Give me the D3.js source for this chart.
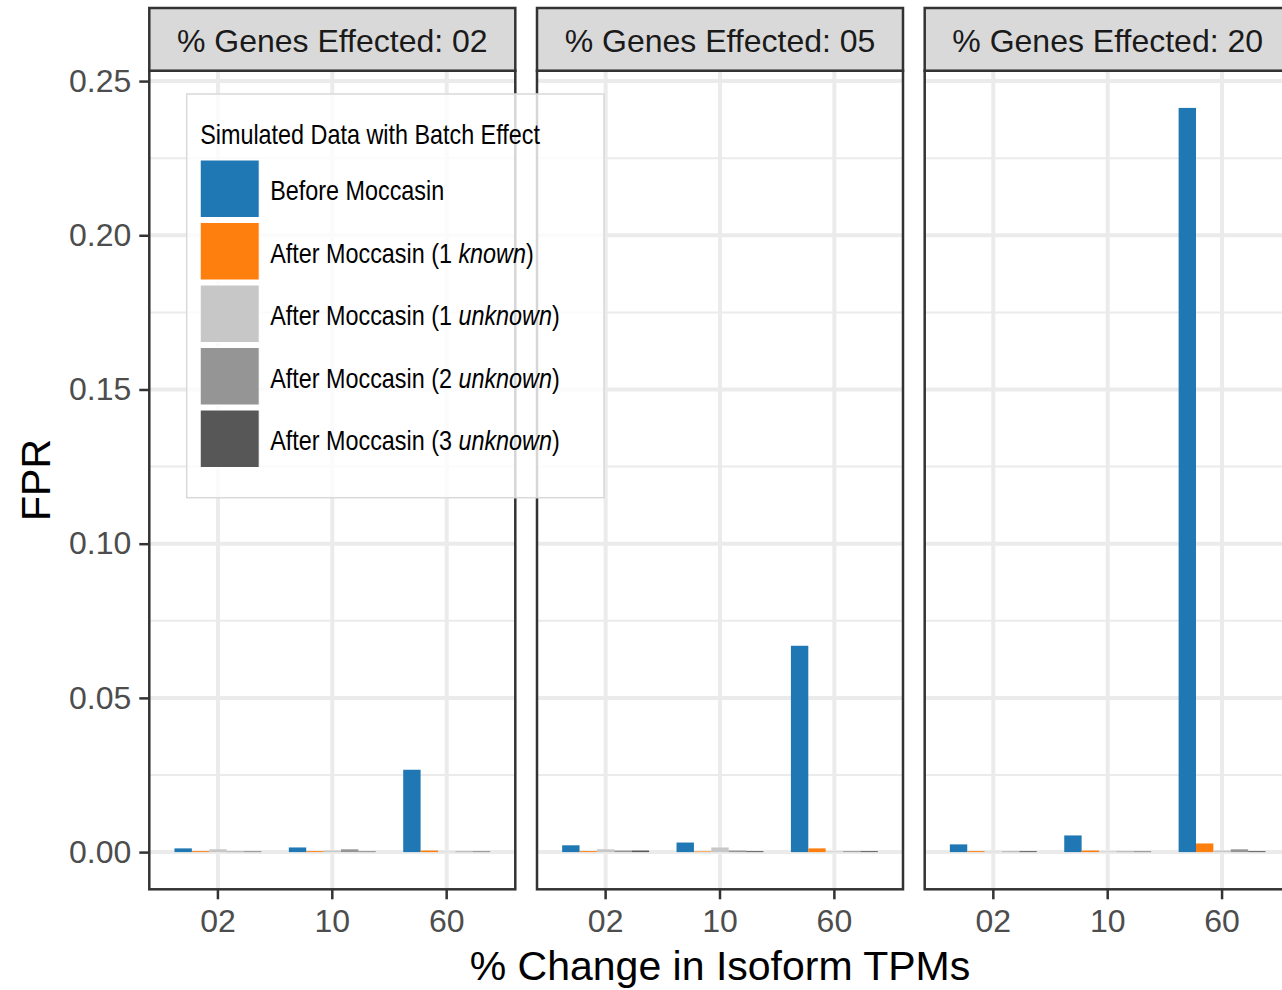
<!DOCTYPE html>
<html>
<head>
<meta charset="utf-8">
<script src="https://cdn.jsdelivr.net/npm/d3@7"></script>
<style>
  body { margin: 0; background: #fff; }
  text { font-family: "Liberation Sans", Arial, Helvetica, sans-serif; }
</style>
</head>
<body>
<svg id="chart" width="1282" height="990"></svg>
<script>
// facets and categories
const facets = ["02", "05", "20"]
const changes = ["02", "10", "60"]
const methods = ["before", "known1", "unknown1", "unknown2", "unknown3"]
const colors = ["#1f77b4", "#ff7f0e", "#c7c7c7", "#959595", "#575757"]

// legend labels: plain part, italic part, closing part
const labelStart = ["Before Moccasin", "After Moccasin (1 ", "After Moccasin (1 ", "After Moccasin (2 ", "After Moccasin (3 "]
const labelItalic = ["", "known", "unknown", "unknown", "unknown"]
const labelEnd = ["", ")", ")", ")", ")"]

// FPR values, [facet][change]
const before   = [[0.0012, 0.0015, 0.0267], [0.0022, 0.0031, 0.0669], [0.0025, 0.0054, 0.2413]]
const known1   = [[0.0003, 0.0003, 0.0005], [0.0003, 0.0002, 0.0012], [0.0003, 0.0005, 0.0028]]
const unknown1 = [[0.0009, 0.0005, 0.0001], [0.0009, 0.0015, 0.0002], [0.0001, 0.0002, 0.0005]]
const unknown2 = [[0.0002, 0.0009, 0.0002], [0.0005, 0.0005, 0.0003], [0.0002, 0.0002, 0.0009]]
const unknown3 = [[0.0002, 0.0002, 0.0002], [0.0005, 0.0003, 0.0003], [0.0003, 0.0002, 0.0003]]

const yTicks = [0, 0.05, 0.10, 0.15, 0.20, 0.25]
const yMinor = [0.025, 0.075, 0.125, 0.175, 0.225]

const series = [before, known1, unknown1, unknown2, unknown3]
let data = []
facets.forEach((f, fi) => {
  changes.forEach((c, ci) => {
    methods.forEach((m, mi) => {
      data.push({facet: f, change: c, method: m, value: series[mi][fi][ci]})
    })
  })
})

const svg = d3.select('#chart')
const panelW = 366
const panelTop = 70.7
const panelBottom = 889.3
const stripTop = 8
const panelGap = 21.7
const firstPanelX = 149.3
const narrow = 0.82 // horizontal squeeze for the condensed legend font

const fx = d3.scaleOrdinal().domain(facets).range(facets.map((d, i) => firstPanelX + i * (panelW + panelGap)))
const x = d3.scaleBand().domain(changes).range([0, panelW]).paddingInner(0.24).paddingOuter(0.22)
const xm = d3.scaleBand().domain(methods).range([0, x.bandwidth()])
const color = d3.scaleOrdinal().domain(methods).range(colors)

const yMax = d3.max(data, d => d.value)
const y = d3.scaleLinear().domain([-0.05 * yMax, 1.05 * yMax]).range([panelBottom, panelTop])

facets.forEach(f => {
  const g = svg.append('g').attr('transform', `translate(${fx(f)},0)`)

  // grid
  g.selectAll('line.minor').data(yMinor).join('line')
    .attr('x1', 0).attr('x2', panelW)
    .attr('y1', d => y(d)).attr('y2', d => y(d))
    .style('stroke', '#ebebeb').style('stroke-width', 2)
  g.selectAll('line.major').data(yTicks).join('line')
    .attr('x1', 0).attr('x2', panelW)
    .attr('y1', d => y(d)).attr('y2', d => y(d))
    .style('stroke', '#ebebeb').style('stroke-width', 4)
  g.selectAll('line.vmajor').data(changes).join('line')
    .attr('x1', d => x(d) + x.bandwidth() / 2).attr('x2', d => x(d) + x.bandwidth() / 2)
    .attr('y1', panelTop).attr('y2', panelBottom)
    .style('stroke', '#ebebeb').style('stroke-width', 4)

  // bars
  g.selectAll('rect.bar').data(data.filter(d => d.facet === f)).join('rect')
    .attr('x', d => x(d.change) + xm(d.method))
    .attr('width', xm.bandwidth())
    .attr('y', d => y(d.value))
    .attr('height', d => y(0) - y(d.value))
    .style('fill', d => color(d.method))

  // panel border
  g.append('rect')
    .attr('x', 0).attr('y', panelTop)
    .attr('width', panelW).attr('height', panelBottom - panelTop)
    .style('fill', 'none').style('stroke', '#333').style('stroke-width', 2.5)

  // strip
  g.append('rect')
    .attr('x', 0).attr('y', stripTop)
    .attr('width', panelW).attr('height', panelTop - stripTop)
    .style('fill', '#d9d9d9').style('stroke', '#333').style('stroke-width', 2.5)
  g.append('text')
    .attr('x', panelW / 2).attr('y', (stripTop + panelTop) / 2 + 12.5)
    .attr('text-anchor', 'middle')
    .style('font-size', '32px').style('fill', '#1a1a1a')
    .text('% Genes Effected: ' + f)

  // x axis
  const xa = g.append('g').attr('transform', `translate(0,${panelBottom})`)
    .call(d3.axisBottom(x).tickSize(10).tickPadding(10))
  xa.select('.domain').remove()
  xa.selectAll('line').style('stroke', '#333').style('stroke-width', 2.5)
  xa.selectAll('text').style('font-size', '32px').style('fill', '#4d4d4d')
    .style('font-family', '"Liberation Sans", Arial, sans-serif')
})

// y axis
const ya = svg.append('g').attr('transform', `translate(${firstPanelX},0)`)
  .call(d3.axisLeft(y).tickValues(yTicks).tickFormat(d3.format('.2f')).tickSize(10).tickPadding(8))
ya.select('.domain').remove()
ya.selectAll('line').style('stroke', '#333').style('stroke-width', 2.5)
ya.selectAll('text').style('font-size', '32px').style('fill', '#4d4d4d')
  .style('font-family', '"Liberation Sans", Arial, sans-serif')

// axis titles
const panelsRight = fx(facets[facets.length - 1]) + panelW
svg.append('text')
  .attr('x', (firstPanelX + panelsRight) / 2).attr('y', 980)
  .attr('text-anchor', 'middle')
  .style('font-size', '41px').style('fill', '#000')
  .text('% Change in Isoform TPMs')
svg.append('text')
  .attr('transform', `translate(50,${(panelTop + panelBottom) / 2}) rotate(-90)`)
  .attr('text-anchor', 'middle')
  .style('font-size', '41px').style('fill', '#000')
  .text('FPR')

// legend
const legend = svg.append('g').attr('transform', 'translate(186.7,94)')
legend.append('rect')
  .attr('width', 417.3).attr('height', 403.7)
  .style('fill', '#fff').style('fill-opacity', 0.8)
  .style('stroke', '#d9d9d9').style('stroke-width', 1.5)
legend.append('text')
  .attr('transform', `translate(13.5,50) scale(${narrow},1)`)
  .style('font-size', '28.5px').style('fill', '#000')
  .text('Simulated Data with Batch Effect')

const items = legend.selectAll('g.item').data(methods).join('g')
  .attr('transform', (d, i) => `translate(13.5,${66 + i * 62.5})`)
items.append('rect')
  .attr('width', 59).attr('height', 57.5)
  .style('fill', d => color(d)).style('stroke', '#fff').style('stroke-width', 1)
const lab = items.append('text')
  .attr('transform', `translate(70,40) scale(${narrow},1)`)
  .style('font-size', '28.5px').style('fill', '#000')
lab.append('tspan').text((d, i) => labelStart[i])
lab.append('tspan').style('font-style', 'italic').text((d, i) => labelItalic[i])
lab.append('tspan').text((d, i) => labelEnd[i])
</script>
</body>
</html>
